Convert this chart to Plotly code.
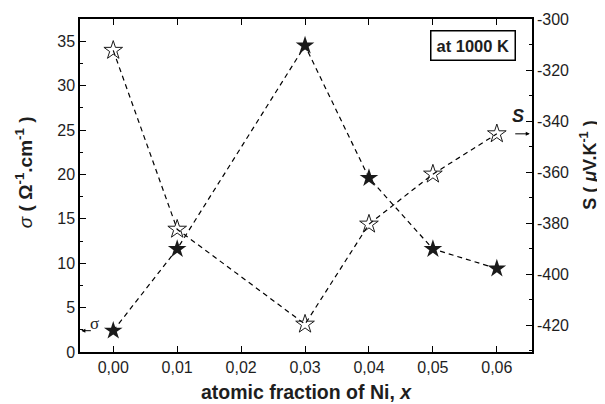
import plotly.graph_objects as go

# ---- data ----
x_ni = [0.00, 0.01, 0.03, 0.04, 0.05, 0.06]
sigma = [2.4, 11.6, 34.5, 19.6, 11.6, 9.4]          # σ (Ω^-1 cm^-1), filled stars
seebeck = [-312.3, -382.4, -419.6, -380.4, -360.8, -345.0]  # S (µV/K), open stars

x_ticks = [0.00, 0.01, 0.02, 0.03, 0.04, 0.05, 0.06]
x_ticklabels = ["0,00", "0,01", "0,02", "0,03", "0,04", "0,05", "0,06"]
y1_ticks = [0, 5, 10, 15, 20, 25, 30, 35]
y2_ticks = [-420, -400, -380, -360, -340, -320, -300]
y2_ticklabels = ["-420", "-400", "-380", "-360", "-340", "-320", "-300"]

FONT = "Liberation Sans"
TXT = "#1e1e1e"

fig = go.Figure()
fig.add_trace(go.Scatter(
    x=x_ni, y=sigma, mode="lines+markers", yaxis="y",
    line=dict(color="black", width=1.2, dash="5px,4px"),
    marker=dict(symbol="star", size=14, color="#1a1a1a", line=dict(width=0)),
    showlegend=False,
))
fig.add_trace(go.Scatter(
    x=x_ni, y=seebeck, mode="lines+markers", yaxis="y2",
    line=dict(color="black", width=1.2, dash="5px,4px"),
    marker=dict(symbol="star-open", size=14, color="#1a1a1a", line=dict(width=1)),
    showlegend=False,
))

axis_common = dict(
    showline=True, linecolor="black", linewidth=1.5,
    ticks="inside", tickcolor="black", tickwidth=1.2,
    showgrid=False, zeroline=False, automargin=False,
    tickfont=dict(family=FONT, size=16, color=TXT),
)

C = dict(xanchor="center", yanchor="middle", showarrow=False)

# page body has an 8px default margin, so the figure is sized/offset to compensate
fig.update_layout(
    width=597, height=396,
    margin=dict(l=72, r=73, t=11, b=52),
    paper_bgcolor="white", plot_bgcolor="white",
    font=dict(family=FONT, color=TXT),
    xaxis=dict(
        **axis_common,
        range=[-0.0052, 0.0655],
        tickvals=x_ticks, ticktext=x_ticklabels, ticklen=6,
        mirror="ticks",
        title=dict(text="<b>atomic fraction of Ni, <i>x</i></b>",
                   font=dict(family=FONT, size=19.5, color=TXT), standoff=10),
    ),
    yaxis=dict(
        **axis_common,
        range=[0, 37.5], tickvals=y1_ticks, ticklen=6,
        minor=dict(dtick=2.5, ticks="inside", ticklen=3, tickcolor="black"),
    ),
    yaxis2=dict(
        **axis_common,
        overlaying="y", side="right",
        range=[-430.5, -300], tickvals=y2_ticks, ticktext=y2_ticklabels, ticklen=6,
        minor=dict(dtick=10, ticks="inside", ticklen=3, tickcolor="black"),
    ),
    annotations=[
        # y axis titles
        dict(text="<i>σ</i><b> ( Ω<sup>-1</sup>.cm<sup>-1</sup> )</b>", textangle=-90,
             xref="paper", yref="paper", x=-0.124, y=0.54, **C,
             font=dict(family=FONT, size=19, color=TXT)),
        dict(text="<b>S ( <i>μ</i>V.K<sup>-1</sup> )</b>", textangle=-90,
             xref="paper", yref="paper", x=1.126, y=0.562, **C,
             font=dict(family=FONT, size=18, color=TXT)),
        dict(text="<b>at 1000 K</b>", xref="paper", yref="paper", x=0.869, y=0.919, **C,
             font=dict(family=FONT, size=16.5, color=TXT),
             bordercolor="black", borderwidth=1.5, borderpad=5, bgcolor="white"),
        # sigma arrow to left axis
        dict(text="", xref="paper", yref="y", x=0.003, y=sigma[0], ax=11, ay=0,
             showarrow=True, arrowhead=2, arrowsize=0.8, arrowwidth=1, arrowcolor="black"),
        dict(text="σ", xref="paper", yref="y", x=0.031, y=3.2, **C,
             font=dict(family="Liberation Serif", size=17, color=TXT)),
        # S arrow to right axis
        dict(text="", xref="paper", yref="y2", x=0.995, y=seebeck[-1], ax=-16, ay=0,
             showarrow=True, arrowhead=2, arrowsize=0.8, arrowwidth=1, arrowcolor="black"),
        dict(text="<b><i>S</i></b>", xref="paper", yref="y2", x=0.968, y=-338.0, **C,
             font=dict(family=FONT, size=18, color=TXT)),
    ],
)

fig.write_html("out.html")
